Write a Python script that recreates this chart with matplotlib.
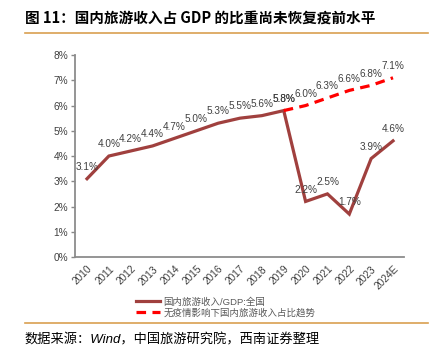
import matplotlib
matplotlib.use("Agg")
import matplotlib.pyplot as plt
from matplotlib.lines import Line2D
from matplotlib.ticker import FuncFormatter

plt.rcParams['font.family'] = ['Liberation Sans', 'Noto Sans CJK SC', 'DejaVu Sans']

# 数据
years = ['2010', '2011', '2012', '2013', '2014', '2015', '2016', '2017',
         '2018', '2019', '2020', '2021', '2022', '2023', '2024E']
actual = [3.1, 4.0, 4.2, 4.4, 4.7, 5.0, 5.3, 5.5, 5.6, 5.8, 2.2, 2.5, 1.7, 3.9, 4.6]
trend_years = ['2019', '2020', '2021', '2022', '2023', '2024E']
trend = [5.8, 6.0, 6.3, 6.6, 6.8, 7.1]

actual_label = '国内旅游收入/GDP:全国'
trend_label = '无疫情影响下国内旅游收入占比趋势'
title = '图 11：国内旅游收入占 GDP 的比重尚未恢复疫前水平'
source = '数据来源：Wind，中国旅游研究院，西南证券整理'

fig = plt.figure(figsize=(4.3, 3.53), dpi=100)
ax = fig.add_axes([0.1744, 0.272, 0.765, 0.572])

x_actual = list(range(len(years)))
x_trend = [years.index(y) for y in trend_years]

ax.plot(x_actual, actual, color='#A0403E', lw=2.3, solid_joinstyle='miter',
        label=actual_label, zorder=3)
ax.plot(x_trend, trend, color='#FF0000', lw=2.3, dashes=(3, 2),
        label=trend_label, zorder=3)

# 数据标签
for xs, vals in [(x_actual, actual), (x_trend, trend)]:
    for x, v in zip(xs, vals):
        ax.annotate(f'{v:.1f}%', (x, v), xytext=(0, 8.5), textcoords='offset points',
                    ha='center', va='center', fontsize=7.2, color='#404040')

ax.set_xlim(-0.55, 14.5)
ax.set_ylim(0, 8)
ax.set_yticks(range(0, 9))
ax.yaxis.set_major_formatter(FuncFormatter(lambda v, p: f'{v:.0f}%'))
ax.set_xticks(x_actual)
ax.set_xticklabels(years, rotation=45, ha='right', rotation_mode='anchor')
ax.tick_params(axis='y', length=3, width=1, color='#888888', labelsize=7.3,
               labelcolor='#404040', pad=2)
ax.tick_params(axis='x', length=0, labelsize=7.3, labelcolor='#404040', pad=5)

for s in ['top', 'right']:
    ax.spines[s].set_visible(False)
for s in ['left', 'bottom']:
    ax.spines[s].set_color('#8C8C8C')
    ax.spines[s].set_linewidth(1.3)

leg = fig.legend(loc='upper left', bbox_to_anchor=(0.316, 0.158), frameon=False,
                 fontsize=6.8, handlelength=2.6, handletextpad=0.3,
                 labelspacing=0.15, borderaxespad=0, borderpad=0)
for t in leg.get_texts():
    t.set_color('#595959')

# 标题、来源及分隔线
fig.text(0.058, 0.95, title, fontsize=10.5, fontweight='bold', va='center', ha='left',
         family=['Noto Sans CJK SC', 'DejaVu Sans'])
fig.add_artist(Line2D([0.058, 0.995], [0.906, 0.906], color='#D9A050', lw=1.2))
fig.add_artist(Line2D([0.058, 0.995], [0.086, 0.086], color='#D9A050', lw=1.2))
fig.text(0.058, 0.037, source, fontsize=9.5, fontstyle='italic', va='center', ha='left')

fig.savefig('out.png', dpi=100)
